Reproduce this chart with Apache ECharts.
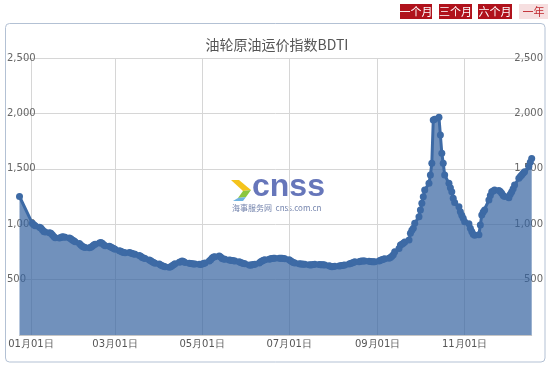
<!DOCTYPE html>
<html><head><meta charset="utf-8">
<script src="https://cdn.jsdelivr.net/npm/echarts@6/dist/echarts.min.js"></script>
<style>html,body{margin:0;padding:0;background:#fff}#c{width:554px;height:366px}</style>
</head><body><div id="c"></div>
<script>
const titleText = '油轮原油运价指数BDTI';
const rangeButtons = ['一个月', '三个月', '六个月', '一年'];
const logoText = 'cnss';
const logoSubText = '海事服务网  cnss.com.cn';

// first published point before the holiday gap
const firstPoint = ['2018-12-24', 1250];
// each row = one week, Monday..Friday (null = no quote)
const firstWeekMonday = '2018-12-31';
const weeklyValues = [
  [null, null, 1008, 995, 985],
  [972, 965, 950, 935, 930],
  [922, 918, 905, 890, 878],
  [875, 880, 887, 885, 882],
  [876, 868, 858, 850, 842],
  [825, 812, 800, 795, 790],
  [788, 792, 800, 812, 820],
  [830, 835, 828, 815, 806],
  [800, 795, 788, 780, 775],
  [760, 755, 750, 745, 742],
  [745, 740, 735, 730, 728],
  [718, 710, 700, 695, 690],
  [677, 670, 662, 655, 648],
  [640, 632, 626, 620, 616],
  [612, 615, 625, 635, 642],
  [656, 662, 668, 664, 655],
  [647, 645, 642, 641, 640],
  [638, 637, 640, 645, 650],
  [668, 680, 695, 705, 707],
  [713, 705, 690, 686, 683],
  [677, 675, 672, 670, 668],
  [660, 655, 650, 645, 642],
  [632, 630, 633, 636, 638],
  [650, 660, 668, 675, 680],
  [684, 688, 690, 692, 692],
  [693, 692, 692, 690, 688],
  [680, 670, 662, 655, 650],
  [643, 641, 640, 639, 638],
  [634, 632, 635, 637, 638],
  [637, 635, 634, 633, 632],
  [625, 620, 617, 618, 620],
  [623, 625, 628, 630, 632],
  [640, 645, 650, 655, 660],
  [662, 665, 667, 668, 668],
  [666, 663, 662, 660, 661],
  [668, 675, 680, 684, 688],
  [692, 700, 710, 725, 752],
  [780, 812, 820, 827, 840],
  [857, 918, 945, 963, 1008],
  [1068, 1128, 1189, 1248, 1309],
  [1369, 1444, 1550, 1940, 1947],
  [1965, 1805, 1640, 1550, 1444],
  [1369, 1330, 1293, 1234, 1195],
  [1158, 1113, 1080, 1053, 1023],
  [1005, 963, 935, 909, 900],
  [905, 993, 1083, 1110, 1128],
  [1218, 1260, 1293, 1300, 1309],
  [1305, 1295, 1279, 1260, 1250],
  [1239, 1270, 1293, 1320, 1354],
  [1414, 1430, 1445, 1459, 1474],
  [1520, 1560, 1594]
];
const xTickDates = ['2019-01-01', '2019-03-01', '2019-05-01', '2019-07-01', '2019-09-01', '2019-11-01'];
const yMin = 0, yMax = 2500, yStep = 500;

function pad(n) { return (n < 10 ? '0' : '') + n; }
function fmtISO(d) { return d.getFullYear() + '-' + pad(d.getMonth() + 1) + '-' + pad(d.getDate()); }
function commas(v) { return String(v).replace(/\B(?=(\d{3})+(?!\d))/g, ','); }

// quotes keyed by date
const quoteByDate = {};
quoteByDate[firstPoint[0]] = firstPoint[1];
const m0 = firstWeekMonday.split('-').map(Number);
let lastDate = firstPoint[0];
weeklyValues.forEach(function (week, w) {
  week.forEach(function (v, i) {
    if (v == null) return;
    const d = new Date(m0[0], m0[1] - 1, m0[2] + w * 7 + i);
    lastDate = fmtISO(d);
    quoteByDate[lastDate] = v;
  });
});
// calendar-day categories spanning the quotes
const categories = [];
const values = [];
const f0 = firstPoint[0].split('-').map(Number);
for (let k = 0; ; k++) {
  const s = fmtISO(new Date(f0[0], f0[1] - 1, f0[2] + k));
  categories.push(s);
  values.push(quoteByDate.hasOwnProperty(s) ? quoteByDate[s] : null);
  if (s === lastDate) break;
}
const isTick = function (idx, val) { return xTickDates.indexOf(val) >= 0; };

const chart = echarts.init(document.getElementById('c'), null, { renderer: 'canvas' });

const btnGeom = [[400, 32], [439, 33], [478, 34], [519, 29]];
const graphics = [
  { type: 'rect', z: -10, shape: { x: 5.5, y: 23.5, width: 539.5, height: 338.5, r: 4 },
    style: { fill: 'none', stroke: '#b3c1d4', lineWidth: 1 } }
];
rangeButtons.forEach(function (t, i) {
  const last = i === rangeButtons.length - 1;
  graphics.push({ type: 'rect', shape: { x: btnGeom[i][0], y: 4, width: btnGeom[i][1], height: 15 },
    style: { fill: last ? '#f6dfe0' : '#b0121c' } });
  graphics.push({ type: 'text', x: btnGeom[i][0] + btnGeom[i][1] / 2, y: 11.5,
    style: { text: t, fill: last ? '#c0282e' : '#ffffff', font: '11px "Noto Sans CJK SC"',
      textAlign: 'center', textVerticalAlign: 'middle' } });
});
// watermark logo
graphics.push({ type: 'polygon', z: -5, shape: { points: [[231, 180], [239, 180], [251, 190], [243, 191]] }, style: { fill: '#f4c31c' } });
graphics.push({ type: 'polygon', z: -5, shape: { points: [[243, 191], [251, 190], [246, 197], [238, 198]] }, style: { fill: '#8cc63f' } });
graphics.push({ type: 'polygon', z: -5, shape: { points: [[238, 198], [246, 197], [243, 201], [233, 201]] }, style: { fill: '#6fb3e0' } });
graphics.push({ type: 'text', z: -5, x: 252, y: 187,
  style: { text: logoText, fill: '#6676ba', font: 'bold 32px "Liberation Sans"', textAlign: 'left', textVerticalAlign: 'middle' } });
graphics.push({ type: 'text', z: -5, x: 232, y: 208,
  style: { text: logoSubText, fill: '#7484ad', font: '8px "Noto Sans CJK SC"', textAlign: 'left', textVerticalAlign: 'middle' } });

const labelFont = 'DejaVu Sans';
chart.setOption({
  animation: false,
  backgroundColor: '#ffffff',
  title: { text: titleText, left: 'center', top: 33,
    textStyle: { fontSize: 14, fontWeight: 'normal', color: '#555555', fontFamily: 'Noto Sans CJK SC' } },
  grid: { left: 19.5, right: 22.3, top: 58, bottom: 31 },
  xAxis: {
    type: 'category', data: categories, boundaryGap: false,
    axisLine: { show: true, lineStyle: { color: '#c6c6c6' } },
    axisTick: { show: false, interval: isTick },
    axisLabel: { interval: isTick, color: '#555', fontSize: 10, fontFamily: labelFont, margin: 4,
      formatter: function (val) { const p = val.split('-'); return p[1] + '月' + p[2] + '日'; } },
    splitLine: { show: true, interval: isTick, lineStyle: { color: '#d6d6d6' } }
  },
  yAxis: [
    { type: 'value', min: yMin, max: yMax, interval: yStep, position: 'left',
      axisLine: { show: false }, axisTick: { show: false },
      splitLine: { show: true, lineStyle: { color: '#d6d6d6' } },
      axisLabel: { align: 'left', margin: 12.5, color: '#666', fontSize: 10, fontFamily: labelFont,
        formatter: function (v) { return v === 0 ? '' : commas(v); } } },
    { type: 'value', min: yMin, max: yMax, interval: yStep, position: 'right',
      axisLine: { show: false }, axisTick: { show: false }, splitLine: { show: false },
      axisLabel: { align: 'right', margin: 11.3, color: '#666', fontSize: 10, fontFamily: labelFont,
        formatter: function (v) { return v === 0 ? '' : commas(v); } } }
  ],
  graphic: graphics,
  series: [{
    type: 'line', data: values, yAxisIndex: 0, connectNulls: true,
    symbol: 'circle', symbolSize: 7, showSymbol: true, showAllSymbol: true,
    lineStyle: { width: 3, color: '#3d6aa5' },
    itemStyle: { color: '#3d6aa5' },
    areaStyle: { color: '#3462a0', opacity: 0.7 }
  }]
});
</script>
</body></html>
